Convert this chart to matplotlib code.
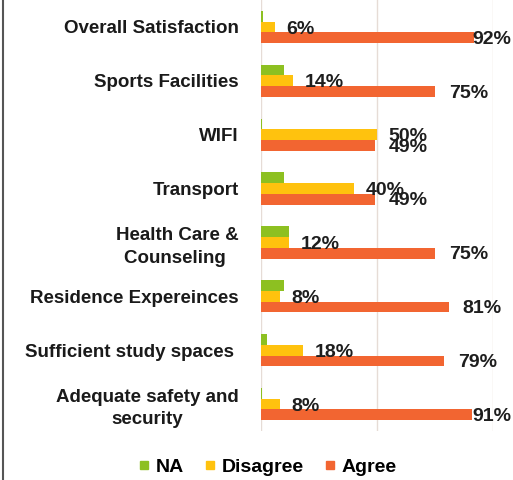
import matplotlib
matplotlib.use("Agg")
import matplotlib.pyplot as plt
import numpy as np
from matplotlib.lines import Line2D

categories = ["Overall Satisfaction", "Sports Facilities", "WIFI", "Transport",
              "Health Care &\nCounseling ", "Residence Expereinces",
              "Sufficient study spaces ", "Adequate safety and\nsecurity"]
na_vals = [0.01, 0.10, 0.005, 0.10, 0.12, 0.10, 0.025, 0.005]
disagree_vals = [0.06, 0.14, 0.50, 0.40, 0.12, 0.08, 0.18, 0.08]
agree_vals = [0.92, 0.75, 0.49, 0.49, 0.75, 0.81, 0.79, 0.91]
series_names = ["NA", "Disagree", "Agree"]
colors = ["#8DC021", "#FFC20E", "#F26531"]

plt.rcParams['font.family'] = ['Liberation Sans', 'DejaVu Sans']

fig = plt.figure(figsize=(5.13, 4.80), dpi=100)
ax = fig.add_axes([261/513, 49/480, 232/513, 431/480])

n = len(categories)
y = np.arange(n)
h = 0.2
series = [na_vals, disagree_vals, agree_vals]
for i, (vals, c) in enumerate(zip(series, colors)):
    ax.barh(y + (i - 1) * h, vals, height=h, color=c, zorder=2)

txt_kw = dict(va='center', ha='left', fontsize=14, fontweight='bold',
              color='#1e1e1e', zorder=3, clip_on=False)
for k in range(n):
    d = disagree_vals[k]
    ax.text(min(d + 0.05, 0.92), y[k] + 0.04, f"{round(d*100)}%", **txt_kw)
    a = agree_vals[k]
    ax.text(min(a + 0.06, 0.912), y[k] + h + 0.03, f"{round(a*100)}%", **txt_kw)

ax.set_xlim(0, 1.0)
ax.set_ylim(n - 0.5, -0.5)
ax.set_xticks([0, 0.5, 1.0])
ax.set_xticklabels([])
ax.tick_params(axis='x', length=0)
ax.tick_params(axis='y', length=0, pad=16)
ax.set_yticks(y)
ax.set_yticklabels(categories, fontsize=13.5, fontweight='bold', color='#1a1a1a',
                   ha='right', multialignment='center', linespacing=1.4)
ax.grid(axis='x', color='#E6DCD6', linewidth=1, zorder=0)
for s in ax.spines.values():
    s.set_visible(False)

handles = [Line2D([0], [0], marker='s', color='w', markerfacecolor=c,
                  markeredgecolor=c, markersize=6, linestyle='None') for c in colors]
fig.legend(handles, series_names, loc='center', bbox_to_anchor=(266/513, 1 - 467/480),
           ncol=3, frameon=False, prop={'size': 14, 'weight': 'bold'},
           handletextpad=0.15, columnspacing=0.9, handlelength=0.9)

fig.add_artist(Line2D([3/513, 3/513], [0, 1], color='#555555', linewidth=1.5,
                      transform=fig.transFigure))

fig.savefig("out.png", dpi=100)
